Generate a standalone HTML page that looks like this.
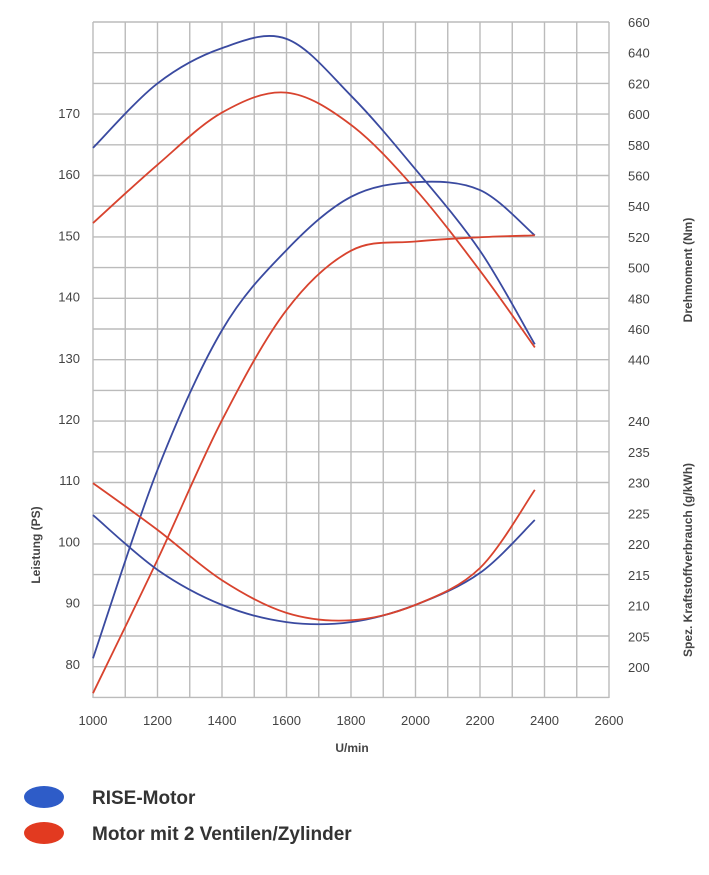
<!DOCTYPE html>
<html><head><meta charset="utf-8"><style>
body{margin:0;background:#fff;width:709px;height:870px;overflow:hidden;font-family:"Liberation Sans",sans-serif}
svg text{font-family:"Liberation Sans",sans-serif;fill:#444}
</style></head><body>
<svg id="c" width="709" height="870" xmlns="http://www.w3.org/2000/svg"></svg>
<script>
const rpm=[1000,1200,1400,1600,1800,2000,2200,2370];
const torqueRise=[578,620,643,649,612,564,511,450];
const torqueTwo=[529,567,601,614,593,551,498,448];
const powerRise=[80.9,111.7,134.5,147.6,156.3,158.7,157.4,150];
const powerTwo=[75.2,97,119.8,137.8,147.5,149.0,149.7,150];
const bsfcRise=[224.7,215.8,210.1,207.3,207.3,210.1,215.3,223.9];
const bsfcTwo=[229.9,222.3,214.1,208.8,207.6,210.1,216.1,228.8];
const xTicks=[1000,1200,1400,1600,1800,2000,2200,2400,2600];
const psTicks=[80,90,100,110,120,130,140,150,160,170];
const nmTicks=[440,460,480,500,520,540,560,580,600,620,640,660];
const bsfcTicks=[200,205,210,215,220,225,230,235,240];

const L=93,R=609,T=22,B=698;
const x=v=>L+(v-1000)*(R-L)/1600;
const yPS=v=>113+(170-v)*6.12;
const yNm=v=>T+(660-v)*30.7/20;
const yB=v=>421+(240-v)*6.15;
const svg=document.getElementById('c');const NS='http://www.w3.org/2000/svg';
function mk(t,a,p){const e=document.createElementNS(NS,t);for(const k in a)e.setAttribute(k,a[k]);(p||svg).appendChild(e);return e;}
const g=mk('g',{});


for(let r=1000;r<=2600;r+=100){mk('line',{x1:x(r),x2:x(r),y1:T,y2:B,stroke:'#bbb','stroke-width':1.4},g);}
for(let yy=T;yy<=B+1;yy+=30.7){mk('line',{x1:L,x2:R,y1:yy,y2:yy,stroke:'#bbb','stroke-width':1.4},g);}
function txt(s,xx,yy,anc,name,extra){const t=mk('text',Object.assign({x:xx,y:yy,'text-anchor':anc,'font-size':13},extra||{}));t.textContent=s;

return t;}
xTicks.forEach(v=>txt(v,x(v),725,'middle','x-tick-label'));
psTicks.forEach(v=>txt(v,80,yPS(v)+5,'end','left-tick-label'));
nmTicks.forEach(v=>txt(v,628,yNm(v)+5,'start','torque-tick-label'));
bsfcTicks.forEach(v=>txt(v,628,yB(v)+5,'start','bsfc-tick-label'));
txt('U/min',352,752,'middle','x-axis-title',{'font-weight':'bold','font-size':12});
txt('Leistung (PS)',0,0,'middle','left-axis-title',{'font-weight':'bold','font-size':12,transform:'translate(40,545) rotate(-90)'});
txt('Drehmoment (Nm)',0,0,'middle','torque-axis-title',{'font-weight':'bold','font-size':12,transform:'translate(692,270) rotate(-90)'});
txt('Spez. Kraftstoffverbrauch (g/kWh)',0,0,'middle','bsfc-axis-title',{'font-weight':'bold','font-size':12,transform:'translate(692,560) rotate(-90)'});
function curve(vals,yf,col,name){const p=rpm.map((r,i)=>[x(r),yf(vals[i])]);let d='M'+p[0];
for(let i=0;i<p.length-1;i++){const a=p[Math.max(i-1,0)],b=p[i],c=p[i+1],e=p[Math.min(i+2,p.length-1)];
d+=' C'+(b[0]+(c[0]-a[0])/6)+','+(b[1]+(c[1]-a[1])/6)+' '+(c[0]-(e[0]-b[0])/6)+','+(c[1]-(e[1]-b[1])/6)+' '+c[0]+','+c[1];}
const el=mk('path',{d:d,fill:'none',stroke:col,'stroke-width':1.8});

}
const BL='#3a4aa0',RD='#d8432e';
curve(torqueRise,yNm,BL,'torque-rise-line');curve(torqueTwo,yNm,RD,'torque-two-valve-line');
curve(powerRise,yPS,BL,'power-rise-line');curve(powerTwo,yPS,RD,'power-two-valve-line');
curve(bsfcRise,yB,BL,'bsfc-rise-line');curve(bsfcTwo,yB,RD,'bsfc-two-valve-line');
const e1=mk('ellipse',{cx:44,cy:797,rx:20,ry:11,fill:'#2e5cc8'});


const e2=mk('ellipse',{cx:44,cy:833,rx:20,ry:11,fill:'#e23a20'});


txt('RISE-Motor',92,804,'start','legend-rise-label',{'font-weight':'bold','font-size':19,style:'fill:#333'});
txt('Motor mit 2 Ventilen/Zylinder',92,840,'start','legend-two-valve-label',{'font-weight':'bold','font-size':19,style:'fill:#333'});
</script>
</body></html>
